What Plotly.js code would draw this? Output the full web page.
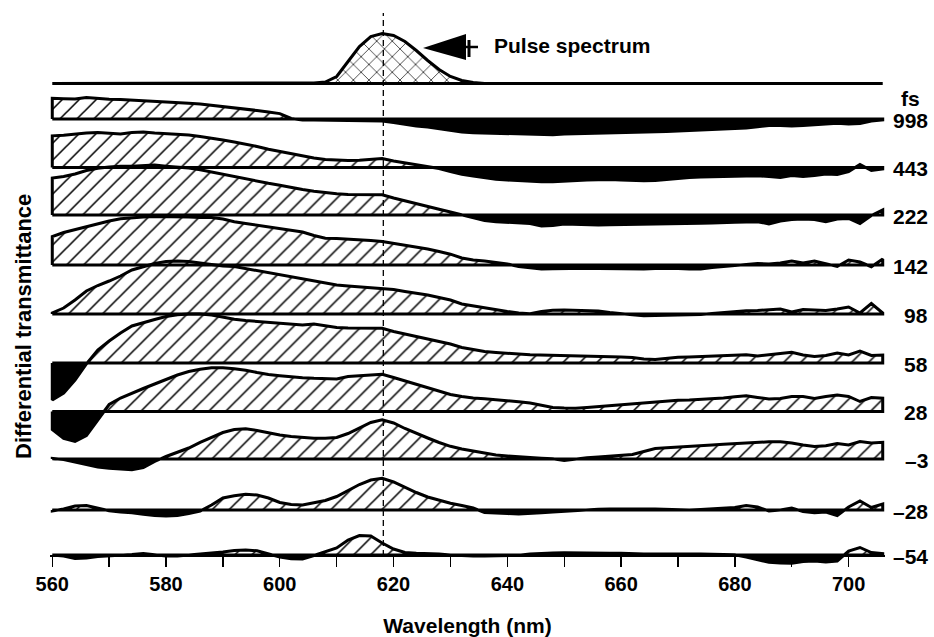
<!DOCTYPE html>
<html>
<head>
<meta charset="utf-8">
<script src="https://cdn.plot.ly/plotly-3.0.1.min.js"></script>
<style>
html,body{margin:0;padding:0;background:#fff;}
#chart{width:934px;height:637px;}
</style>
</head>
<body>
<div id="chart"></div>
<script>
// ---------------- DATA ----------------
// Wavelength grid (nm)
const wavelength = [
  560,562,564,566,568,570,572,574,576,578,
  580,582,584,586,588,590,592,594,596,598,
  600,602,604,606,608,610,612,614,616,618,
  620,622,624,626,628,630,632,634,636,638,
  640,642,644,646,648,650,652,654,656,658,
  660,662,664,666,668,670,672,674,676,678,
  680,682,684,686,688,690,692,694,696,698,
  700,702,704,706
];

// Pulse spectrum (arb. units)
const pulseSpectrum = [
  0,0,0,0,0,0,0,0,0,0,
  0,0,0,0,0,0,0,0,0,0,
  0,0,0.3,0.5,1.5,7,22,37,47,50,
  48,42,33,23,14,7,3,1,0,0,
  0,0,0,0,0,0,0,0,0,0,
  0,0,0,0,0,0,0,0,0,0,
  0,0,0,0,0,0,0,0,0,0,
  0,0,0,0
];

// Differential transmittance (arb. units) for each pump-probe delay
const dT_998 = [
  20.7,20.3,20,21.5,20.3,19.8,19.5,19,18.5,18,
  17.3,16.6,15.8,15,13.8,12.7,11.5,10,8.5,7,
  5.4,0.5,-1,-1,-1.2,-1.2,-1.5,-1.5,-1.8,-2,
  -3.5,-5.5,-7,-8,-9.5,-11,-13,-13.7,-14,-14.3,
  -14.8,-15.2,-15.5,-16,-15.8,-15,-14.8,-14.4,-14.2,-13.8,
  -13.6,-13.3,-13,-12.8,-12.5,-12,-11.5,-11,-10.7,-10.3,
  -9.8,-9,-7.7,-6.5,-6.5,-7,-6.5,-6,-5,-4.3,
  -5,-4.5,-2,-1
];
const dT_443 = [
  31.7,32.3,33.5,34.5,35,34,33.5,35,35.5,34.5,
  34,33.5,32.5,31,29.5,27.5,25.5,23.5,21,18.3,
  16,13.5,11.5,9.5,8,7.3,7,7.2,8,9,
  6.5,4.5,2.5,1,-1,-4,-6.7,-8.5,-10,-11.8,
  -12.5,-13.3,-13.8,-14.3,-14.3,-13.5,-12.8,-12.5,-12.3,-12,
  -12.5,-13,-13.3,-13,-12,-10.5,-10,-9.6,-9.3,-9.3,
  -9,-8.5,-8.3,-9,-10,-8,-9,-8,-6.5,-7,
  -4,3,-3,-1.5
];
const dT_222 = [
  37,38.5,41,44.5,46.8,48,48.8,48.7,49.5,50,
  48.7,48,47,45.3,43,40.5,38.5,36,34,31.7,
  29.8,27.5,25.5,23.8,22.3,21.2,20.4,20.3,20.3,20.3,
  17,14,11,8.3,5.7,3,0,-3,-5.5,-6.7,
  -7.3,-8,-8.5,-11,-10.5,-9,-9.5,-10,-10,-9.8,
  -9.7,-9.6,-9.4,-9.1,-9,-8.8,-8.7,-8.3,-8,-7.4,
  -7.2,-7,-6.7,-9,-6,-4.5,-4,-4.5,-6.7,-4,
  -3.5,-8.5,-0.5,5
];
const dT_142 = [
  28.4,32.5,35.5,38.5,41,44,46.3,47.3,48,48.4,
  48.4,48.4,48,47.4,47.4,46,43.2,41.5,39.8,38.2,
  36.5,34.8,33,29.5,26.7,26.5,26,25.5,24.5,23.4,
  21.7,19.8,18,16,13.5,10.8,7,5,4,2.5,
  1,-1.5,-3,-4,-3.8,-3.5,-3.3,-3.3,-3.5,-3.8,
  -4,-4,-4,-3.5,-3.3,-3.5,-4,-4,-2.5,-1.5,
  -0.5,0.7,1.5,1,2,4,2,4,1,-1.5,
  5,3,-1.7,6
];
const dT_98 = [
  1,6,14,23,28.5,33,38,44,47.5,50.5,
  52.5,53,52.5,51,49.3,48,47.5,45.5,43,40.8,
  39,37,35.5,33,30.8,29,28,27.2,26.5,26,
  24.5,22.5,21,19,16.5,14,10,8,6,4.5,
  2.5,1,0.3,2.5,3.8,4,3.5,3.3,3,1.5,
  0,-0.8,-1.7,-1.5,-1.3,-1,-1,-0.5,0.5,1.5,
  2.5,3.3,3.5,4.5,5,2,4.5,4,3.5,5,
  7,1,10.5,1
];
const dT_58 = [
  -37,-30,-17,-1,13,22,30,37,40.5,43.5,
  46.5,48.3,49,49,48,46,43.7,42.5,41.5,40.5,
  39.5,38.5,38,39,37.5,35.5,35,35,35,34.7,
  31.5,29,26.5,23.8,21.2,19,15.5,13.5,11.5,10.5,
  10,9,8.2,8,7.8,7.6,7.2,6.8,6.5,6.2,
  6,5.5,4,3.5,4.8,5.7,6,6.5,6.8,7.2,
  7.8,8.3,7,8.5,9.5,10.7,8,6.5,7.5,10,
  8,12,7.5,8
];
const dT_28 = [
  -18,-27,-30,-24,-8,7,13.5,18.5,23,27.5,
  32,36.5,40,42.3,43.7,43.8,42.8,41.3,39,37,
  35.8,34.6,33.8,33.2,32.6,32.6,35,35.8,36.8,37.3,
  34,30.6,27.5,24,21,17,15,13.5,12.8,12,
  11,9.8,8.5,6,4,3.5,3.3,4,5,5.7,
  6.8,8,9,9.8,10.5,11.3,11.6,12,12.4,13.5,
  14.8,15.7,14,12.5,13,15,15,13,15,16.5,
  15,10,14,13.3
];
const dT_m3 = [
  0.5,-0.5,-3,-5.5,-8,-9.3,-10.2,-10.7,-8.5,-2.5,
  2.5,6.5,11,16.7,22,26.5,29.5,30.2,28.5,26.2,
  24,22.5,21.5,20.8,20.7,21.5,25.5,31,36.5,39.3,
  36,30.5,25.5,21,16.5,12.7,10,8,5.5,4,
  3,2,1.5,0.8,0.2,-1.5,0,1.2,2,2.6,
  3.2,4.5,7.5,10.5,11.2,11.8,12.2,13,14,14.8,
  15.5,16,16.6,17.2,17.2,16,14,12.5,13.3,15.5,
  14,17.5,16,16.7
];
const dT_m28 = [
  -1,1,4,4.5,2,-0.8,-2,-2.7,-4.2,-5.5,
  -6,-5.5,-3.5,-1,5,12,14.3,15.7,15,12,
  7.5,5.5,5,7,9.5,13.5,19.5,25.5,30,31.7,
  28,22.5,17.5,13,9.5,6.7,4.5,2,-2.5,-3.3,
  -3.6,-4,-3.6,-2.8,-2,-1.2,-0.2,0.5,0.8,1.1,
  1.3,1.2,1.1,1,0.7,0.3,0,0.5,1,1.5,
  2.5,4.5,3,-1,0,2,-1.5,-2.7,-2,-5.5,
  3,9,2.5,6
];
const dT_m54 = [
  0,-1,-3.5,-3,-1.5,-1,-0.5,0.5,1.5,0,
  -1,-1,0,0.5,1.5,3,4.5,5,4.3,1.5,
  -2,-3.8,-4,-0.5,3.5,7,15,19.5,19,12,
  6,2.5,1.8,1.5,1,0,-0.8,-1,-1,-1,
  -0.8,-0.3,1,1.7,2,2.3,2,2,2,1.8,
  1.7,1.2,1,1,0.8,0.7,1,1,0.8,0.5,
  0.3,-2,-5,-7.3,-8,-8.3,-6.5,-6,-7,-6,
  4,7.5,2.5,1.5
];

const delaySeries = [dT_998, dT_443, dT_222, dT_142, dT_98, dT_58, dT_28, dT_m3, dT_m28, dT_m54];
const delayLabels = ['998','443','222','142','98','58','28','\u20133','\u201328','\u201354'];

const xTickVals = [560,570,580,590,600,610,620,630,640,650,660,670,680,690,700];
const xTickText = ['560','','580','','600','','620','','640','','660','','680','','700'];

// ---------------- LAYOUT CONFIG ----------------
const W = 934, H = 637;
const M = {l:50, r:49, t:10, b:67};
const plotTop = M.t, plotBottom = H - M.b;      // pixel rows of the plot area
const plotW = W - M.l - M.r, plotH = plotBottom - plotTop;
// baseline pixel row of each trace (pulse first, then delays top to bottom)
const baselines = [83.5, 119, 167.5, 215, 265, 314, 363, 411.5, 459, 510, 555];
const axisRow = 556;

const FONT = 'Liberation Sans, Arial, Helvetica, sans-serif';
const px2paperX = p => (p - M.l) / plotW;
const px2paperY = p => (plotBottom - p) / plotH;

function axisRange(b){ return [-(plotBottom - b), (b - plotTop)]; }

function splitSigned(x, v){
  const pos = {x:[], y:[]}, neg = {x:[], y:[]};
  for (let i = 0; i < x.length; i++){
    if (i > 0 && v[i-1] !== 0 && v[i] !== 0 && (v[i-1] > 0) !== (v[i] > 0)){
      const t = v[i-1] / (v[i-1] - v[i]);
      const xc = x[i-1] + t * (x[i] - x[i-1]);
      pos.x.push(xc); pos.y.push(0); neg.x.push(xc); neg.y.push(0);
    }
    pos.x.push(x[i]); pos.y.push(Math.max(v[i], 0));
    neg.x.push(x[i]); neg.y.push(Math.min(v[i], 0));
  }
  return {pos, neg};
}

function outline(x, v){
  const xs = [x[0]].concat(x, [x[x.length-1], x[0]]);
  const ys = [0].concat(v, [0, 0]);
  return {x: xs, y: ys};
}

const traces = [];
const allSeries = [pulseSpectrum].concat(delaySeries);
allSeries.forEach((v, k) => {
  const yref = k === 0 ? 'y' : 'y' + (k + 1);
  const s = splitSigned(wavelength, v);
  traces.push({
    type:'scatter', mode:'lines', x:s.pos.x, y:s.pos.y, yaxis:yref,
    fill:'tozeroy', fillcolor:'rgba(255,255,255,0)',
    fillpattern:{shape: k === 0 ? 'x' : '/', size: k === 0 ? 11 : 12, solidity: k === 0 ? 0.12 : 0.13,
                 fgcolor:'#000', bgcolor:'rgba(255,255,255,0)'},
    line:{width:0, color:'rgba(0,0,0,0)'}, hoverinfo:'skip', showlegend:false
  });
  if (k > 0){
    traces.push({
      type:'scatter', mode:'lines', x:s.neg.x, y:s.neg.y, yaxis:yref,
      fill:'tozeroy', fillcolor:'#000',
      line:{width:0, color:'rgba(0,0,0,0)'}, hoverinfo:'skip', showlegend:false
    });
  }
  const o = outline(wavelength, v);
  traces.push({
    type:'scatter', mode:'lines', x:o.x, y:o.y, yaxis:yref,
    line:{width:3, color:'#000', shape:'linear'}, hoverinfo:'skip', showlegend:false
  });
});

const layout = {
  width:W, height:H,
  margin:M,
  paper_bgcolor:'#fff', plot_bgcolor:'rgba(0,0,0,0)',
  showlegend:false,
  font:{family:FONT, color:'#000'},
  xaxis:{
    range:[559.6, 706.4],
    anchor:'free', position: px2paperY(axisRow),
    tickmode:'array', tickvals:xTickVals, ticktext:xTickText,
    ticks:'outside', ticklen:10, tickwidth:1.4, tickcolor:'#000',
    showline:true, linecolor:'#000', linewidth:2,
    showgrid:false, zeroline:false,
    tickfont:{family:FONT, size:20, weight:'bold', color:'#000'},
    title:{text:'Wavelength (nm)', font:{family:FONT, size:21, weight:'bold', color:'#000'}, standoff:23},
    fixedrange:true
  },
  shapes:[
    {type:'line', xref:'x', yref:'paper', x0:618.2, x1:618.2,
     y0:px2paperY(axisRow), y1:px2paperY(13),
     line:{color:'#000', width:1.3, dash:'6px,4px'}, layer:'above'},
    // arrow pointing at the pulse spectrum
    {type:'path', xref:'paper', yref:'paper',
     path:'M' + px2paperX(423) + ',' + px2paperY(48) +
          ' L' + px2paperX(466) + ',' + px2paperY(34) +
          ' L' + px2paperX(466) + ',' + px2paperY(60) + ' Z',
     fillcolor:'#000', line:{width:0}},
    {type:'line', xref:'paper', yref:'paper',
     x0:px2paperX(464), x1:px2paperX(478), y0:px2paperY(47), y1:px2paperY(47),
     line:{color:'#000', width:2.5}},
    {type:'line', xref:'paper', yref:'paper',
     x0:px2paperX(469), x1:px2paperX(469), y0:px2paperY(40), y1:px2paperY(57),
     line:{color:'#000', width:3}}
  ],
  annotations:[
    {xref:'paper', yref:'paper', x:px2paperX(492), y:px2paperY(45),
     xanchor:'left', yanchor:'middle', showarrow:false,
     text:'Pulse spectrum', font:{family:FONT, size:21, weight:'bold', color:'#000'}},
    {xref:'paper', yref:'paper', x:px2paperX(23), y:px2paperY(327),
     xanchor:'center', yanchor:'middle', showarrow:false, textangle:-90,
     text:'Differential transmittance', font:{family:FONT, size:22, weight:'bold', color:'#000'}},
    {xref:'paper', yref:'paper', x:px2paperX(922), y:px2paperY(98),
     xanchor:'right', yanchor:'middle', showarrow:false,
     text:'fs', font:{family:FONT, size:21, weight:'bold', color:'#000'}}
  ]
};

// y axes: one per trace, all overlaying the first, baselines placed by range
baselines.forEach((b, k) => {
  const name = k === 0 ? 'yaxis' : 'yaxis' + (k + 1);
  const ax = {range:axisRange(b), domain:[0,1], visible:false, fixedrange:true,
              showgrid:false, zeroline:false};
  if (k > 0) ax.overlaying = 'y';
  layout[name] = ax;
});

delayLabels.forEach((lab, i) => {
  layout.annotations.push({
    xref:'paper', yref: 'y' + (i + 2), x:px2paperX(930), y:0, yshift:-1,
    xanchor:'right', yanchor:'middle', showarrow:false,
    text:lab, font:{family:FONT, size:21, weight:'bold', color:'#000'}
  });
});

Plotly.newPlot('chart', traces, layout, {displayModeBar:false, staticPlot:true});
</script>
</body>
</html>
